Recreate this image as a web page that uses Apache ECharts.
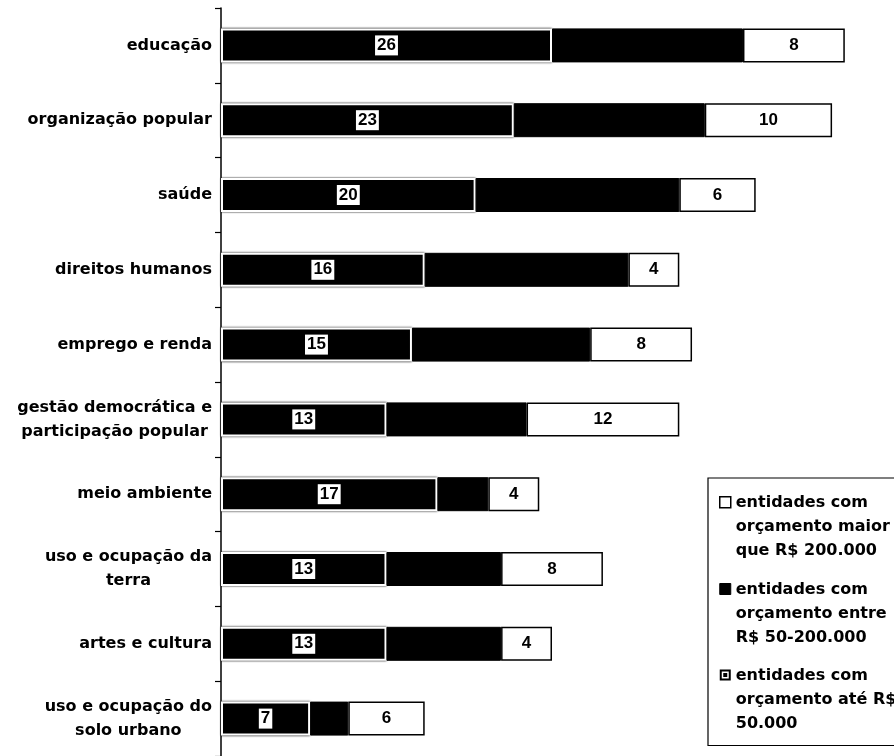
<!DOCTYPE html>
<html><head><meta charset="utf-8">
<script src="https://cdn.jsdelivr.net/npm/echarts@6/dist/echarts.min.js"></script>
<style>html,body{margin:0;padding:0;background:#fff}#c{width:894px;height:756px}</style>
</head><body><div id="c"></div>
<script>
const categories = ['educação','organização popular','saúde','direitos humanos','emprego e renda','gestão democrática e\nparticipação popular','meio ambiente','uso e ocupação da\nterra','artes e cultura','uso e ocupação do\nsolo urbano'];
const ate50k = [26,23,20,16,15,13,17,13,13,7];
const entre50a200k = [15,15,16,16,14,11,4,9,9,3];
const maior200k = [8,10,6,4,8,12,4,8,4,6];
const nameAte = 'entidades com\norçamento até R$\n50.000';
const nameEntre = 'entidades com\norçamento entre\nR$ 50-200.000';
const nameMaior = 'entidades com\norçamento maior\nque R$ 200.000';

const FONT = 'DejaVu Sans';
const iconSquare = 'path://M0,0 M0,72 M0,6h11v11h-11z';
const iconPattern = 'path://M0,0 M0,72 M0,6h11v11h-11z M2,8v7h7v-7z M3.5,9.5h4v4h-4z';

const chart = echarts.init(document.getElementById('c'), null, {renderer:'canvas'});
const numLabel = {show:true, position:'inside', color:'#000', fontFamily:'Liberation Sans', fontWeight:'bold', fontSize:17};
chart.setOption({
  animation:false,
  backgroundColor:'#fff',
  grid:{left:221, top:8, width:662, height:755, containLabel:false},
  xAxis:{type:'value', min:0, max:52, show:false},
  yAxis:{
    type:'category', data:categories, inverse:true,
    axisLine:{show:true, lineStyle:{color:'#000', width:1.5}},
    axisTick:{show:true, length:6, inside:false, lineStyle:{color:'#000', width:1.2}},
    axisLabel:{
      margin:9,
      formatter:v => v.split('\n').map(s => '{c|' + s + '}').join('\n'),
      rich:{c:{fontFamily:FONT, fontWeight:'bold', fontSize:16, lineHeight:24, align:'center', color:'#000'}}
    }
  },
  legend:{
    orient:'vertical', left:708, top:478,
    padding:[12, 30, 10, 11],
    itemWidth:11, itemHeight:72, itemGap:13.5,
    borderColor:'#000', borderWidth:1.2,
    selectedMode:false,
    textStyle:{fontFamily:FONT, fontWeight:'bold', fontSize:16, lineHeight:24, color:'#000'},
    data:[
      {name:nameMaior, icon:iconSquare, itemStyle:{color:'#fff', borderColor:'#000', borderWidth:1.5}},
      {name:nameEntre, icon:iconSquare, itemStyle:{color:'#000', borderColor:'#000', borderWidth:1}},
      {name:nameAte, icon:iconPattern, itemStyle:{color:'#000', borderWidth:0}}
    ]
  },
  series:[
    {name:nameAte, type:'bar', stack:'t', data:ate50k, barWidth:34,
     itemStyle:{color:'#000', borderColor:'#fff', borderWidth:2, shadowColor:'#000', shadowBlur:2},
     label:Object.assign({}, numLabel, {backgroundColor:'#fff', padding:[2,2,1,2]}),
     emphasis:{disabled:true}},
    {name:nameEntre, type:'bar', stack:'t', data:entre50a200k, barWidth:34,
     itemStyle:{color:'#000', borderColor:'#000', borderWidth:1},
     emphasis:{disabled:true}},
    {name:nameMaior, type:'bar', stack:'t', data:maior200k, barWidth:34,
     itemStyle:{color:'#fff', borderColor:'#000', borderWidth:1.5},
     label:numLabel,
     emphasis:{disabled:true}}
  ]
});
</script></body></html>
